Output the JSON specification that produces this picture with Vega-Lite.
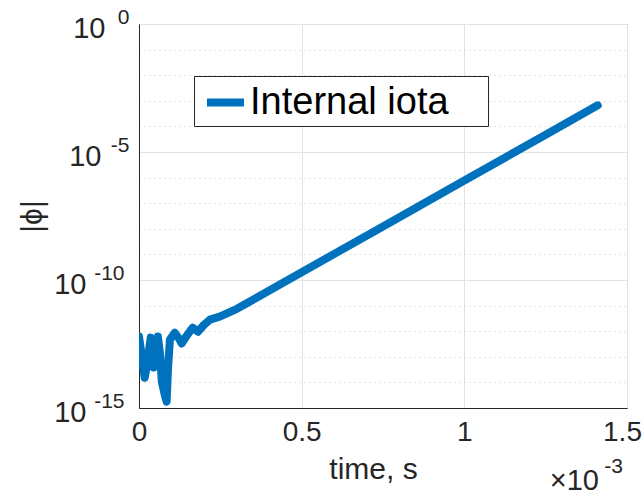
{
  "$schema": "https://vega.github.io/schema/vega-lite/v6.json",
  "width": 488,
  "height": 384,
  "autosize": {"type": "none"},
  "padding": {"left": 139, "top": 24, "right": 16, "bottom": 89},
  "background": "white",
  "config": {
    "view": {"stroke": "#262626", "strokeWidth": 1},
    "font": "Liberation Sans"
  },
  "data": {
    "values": [
      {"time": 0, "phi": 6.17e-13, "series": "Internal iota"},
      {"time": 0.000008, "phi": 1.2e-13, "series": "Internal iota"},
      {"time": 0.0000175, "phi": 1.51e-14, "series": "Internal iota"},
      {"time": 0.000027, "phi": 7.94e-14, "series": "Internal iota"},
      {"time": 0.000036, "phi": 5.62e-13, "series": "Internal iota"},
      {"time": 0.000042, "phi": 1.91e-13, "series": "Internal iota"},
      {"time": 0.000045, "phi": 3.8e-14, "series": "Internal iota"},
      {"time": 0.00005, "phi": 1.2e-13, "series": "Internal iota"},
      {"time": 0.000058, "phi": 6.17e-13, "series": "Internal iota"},
      {"time": 0.000065, "phi": 1.2e-13, "series": "Internal iota"},
      {"time": 0.00007, "phi": 1.07e-14, "series": "Internal iota"},
      {"time": 0.000079, "phi": 3.31e-15, "series": "Internal iota"},
      {"time": 0.000085, "phi": 1.78e-15, "series": "Internal iota"},
      {"time": 0.000089, "phi": 3.16e-14, "series": "Internal iota"},
      {"time": 0.000095, "phi": 4.68e-13, "series": "Internal iota"},
      {"time": 0.00011, "phi": 8.71e-13, "series": "Internal iota"},
      {"time": 0.000125, "phi": 4.68e-13, "series": "Internal iota"},
      {"time": 0.000131, "phi": 3.31e-13, "series": "Internal iota"},
      {"time": 0.000147, "phi": 6.76e-13, "series": "Internal iota"},
      {"time": 0.000165, "phi": 1.38e-12, "series": "Internal iota"},
      {"time": 0.000181, "phi": 9.55e-13, "series": "Internal iota"},
      {"time": 0.0002, "phi": 1.78e-12, "series": "Internal iota"},
      {"time": 0.000218, "phi": 2.82e-12, "series": "Internal iota"},
      {"time": 0.000248, "phi": 3.72e-12, "series": "Internal iota"},
      {"time": 0.000301, "phi": 7.5e-12, "series": "Internal iota"},
      {"time": 0.000372, "phi": 2.42e-11, "series": "Internal iota"},
      {"time": 0.0005, "phi": 2.0e-10, "series": "Internal iota"},
      {"time": 0.00075, "phi": 1.24e-8, "series": "Internal iota"},
      {"time": 0.001, "phi": 7.66e-7, "series": "Internal iota"},
      {"time": 0.00125, "phi": 4.73e-5, "series": "Internal iota"},
      {"time": 0.00141, "phi": 6.64e-4, "series": "Internal iota"}
    ]
  },
  "resolve": {"axis": {"y": "independent"}},
  "layer": [
    {
      "mark": {
        "type": "line",
        "strokeWidth": 8,
        "strokeCap": "round",
        "strokeJoin": "round",
        "clip": true
      },
      "encoding": {
        "x": {
          "field": "time",
          "type": "quantitative",
          "scale": {"domain": [0, 0.0015], "nice": false, "zero": false},
          "axis": {
            "values": [0, 0.0005, 0.001, 0.0015],
            "labelExpr": "format(datum.value * 1000, '.1~f')",
            "title": "time, s",
            "titleFontSize": 30,
            "titleFontWeight": "normal",
            "titleColor": "#262626",
            "titlePadding": 8,
            "titleX": 234,
            "labelFontSize": 28,
            "labelColor": "#262626",
            "labelPadding": 10,
            "labelOffset": {"condition": {"test": "datum.value > 0.0014", "value": -5}, "value": 0},
            "labelFlush": false,
            "labelOverlap": false,
            "ticks": false,
            "domainColor": "#262626",
            "grid": true,
            "gridColor": "#e3e3e3",
            "gridWidth": 1
          }
        },
        "y": {
          "field": "phi",
          "type": "quantitative",
          "scale": {"type": "log", "domain": [1e-15, 1], "nice": false},
          "axis": {
            "orient": "left",
            "values": [1e-15, 1e-14, 1e-13, 1e-12, 1e-11, 1e-10, 1e-9, 1e-8, 1e-7, 1e-6, 1e-5, 1e-4, 1e-3, 1e-2, 1e-1, 1],
            "labelExpr": "abs(round(log(datum.value)/LN10)) % 5 == 0 ? '10' : ''",
            "labelFontSize": 29,
            "labelColor": "#262626",
            "labelAlign": "right",
            "labelBaseline": "middle",
            "labelPadding": {"condition": [
              {"test": "round(log(datum.value)/LN10) == 0", "value": 34},
              {"test": "round(log(datum.value)/LN10) == -5", "value": 38}
            ], "value": 53},
            "labelOffset": 4,
            "labelFlush": false,
            "labelOverlap": false,
            "labelBound": false,
            "ticks": false,
            "domainColor": "#262626",
            "grid": true,
            "gridColor": {"condition": {"test": "abs(round(log(datum.value)/LN10)) % 5 == 0", "value": "#e3e3e3"}, "value": "#c8c8c8"},
            "gridDash": {"condition": {"test": "abs(round(log(datum.value)/LN10)) % 5 == 0", "value": []}, "value": [1, 4]},
            "title": "|ϕ|",
            "titleFontSize": 30,
            "titleFontWeight": "normal",
            "titleColor": "#262626",
            "titleX": -92,
            "titleY": 192,
            "titleAngle": -90,
            "titleBaseline": "bottom"
          }
        },
        "color": {
          "field": "series",
          "type": "nominal",
          "scale": {"range": ["#0072BD"]},
          "legend": {
            "title": null,
            "orient": "none",
            "legendX": 55,
            "legendY": 52,
            "symbolType": "stroke",
            "symbolStrokeWidth": 8,
            "symbolSize": 1369,
            "symbolOffset": 5,
            "labelFontSize": 38,
            "labelColor": "#000000",
            "labelLimit": 0,
            "labelExpr": "datum.label + '\u2002\u2005\u2006\u200b'",
            "labelOffset": 2,
            "padding": 4,
            "fillColor": "white",
            "strokeColor": "#262626"
          }
        }
      }
    },
    {
      "mark": {"type": "line", "opacity": 0, "strokeWidth": 0},
      "encoding": {
        "x": {"field": "time", "type": "quantitative"},
        "y": {
          "field": "phi",
          "type": "quantitative",
          "axis": {
            "orient": "left",
            "values": [1e-15, 1e-10, 1e-5, 1],
            "labelExpr": "'' + round(log(datum.value)/LN10)",
            "labelFontSize": 21,
            "labelColor": "#262626",
            "labelAlign": "right",
            "labelBaseline": "middle",
            "labelPadding": {"condition": {"test": "round(log(datum.value)/LN10) > -8", "value": 10}, "value": 15},
            "labelOffset": -7,
            "labelFlush": false,
            "labelOverlap": false,
            "labelBound": false,
            "ticks": false,
            "domain": false,
            "grid": false,
            "title": null
          }
        }
      }
    },
    {
      "data": {"values": [{"label": "×10", "time": 0.0015, "phi": 1e-15}]},
      "mark": {"type": "text", "fontSize": 29, "color": "#262626", "align": "right", "baseline": "alphabetic", "dx": -28, "dy": 82},
      "encoding": {
        "x": {"field": "time", "type": "quantitative"},
        "y": {"field": "phi", "type": "quantitative", "axis": null},
        "text": {"field": "label"}
      }
    },
    {
      "data": {"values": [{"label": "-3", "time": 0.0015, "phi": 1e-15}]},
      "mark": {"type": "text", "fontSize": 21, "color": "#262626", "align": "right", "baseline": "alphabetic", "dx": -4, "dy": 65},
      "encoding": {
        "x": {"field": "time", "type": "quantitative"},
        "y": {"field": "phi", "type": "quantitative", "axis": null},
        "text": {"field": "label"}
      }
    }
  ]
}
